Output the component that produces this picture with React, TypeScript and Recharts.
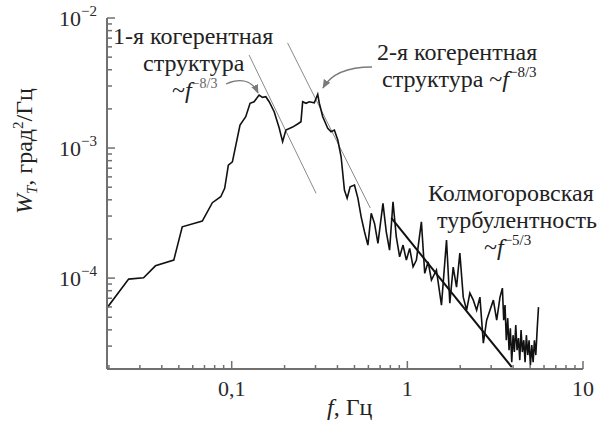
import React from 'react';
import { LineChart, Line, XAxis, YAxis, ReferenceLine } from 'recharts';

// Frequency, Hz
const freq = [
  0.0196, 0.0259, 0.0315, 0.0368, 0.0468, 0.0523, 0.068, 0.0776, 0.0866, 0.0912,
  0.0957, 0.1009, 0.1115, 0.1202, 0.1272, 0.1341, 0.1432, 0.1497, 0.1564, 0.1634,
  0.1745, 0.1864, 0.1949, 0.2035, 0.2222, 0.2373, 0.2479, 0.2535, 0.2648, 0.2765,
  0.2953, 0.3088, 0.3154, 0.3298, 0.3522, 0.3679, 0.3842, 0.4018, 0.4196, 0.4383,
  0.4541, 0.4724, 0.4999, 0.5228, 0.5461, 0.5702, 0.5962, 0.6227, 0.6503, 0.6801,
  0.7264, 0.7586, 0.792, 0.8285, 0.8652, 0.9037, 0.945, 0.987, 1.031, 1.078,
  1.126, 1.202, 1.256, 1.313, 1.371, 1.464, 1.564, 1.671, 1.745, 1.824,
  1.905, 1.99, 2.081, 2.174, 2.27, 2.374, 2.48, 2.589, 2.708, 2.828,
  2.953, 3.088, 3.226, 3.369, 3.476, 3.537, 3.597, 3.66, 3.728, 3.793,
  3.858, 3.929, 3.997, 4.066, 4.142, 4.213, 4.292, 4.365, 4.44, 4.517,
  4.601, 4.68, 4.76, 4.849, 4.933, 5.018, 5.11, 5.2, 5.289, 5.387,
  5.481, 5.58,
];

// Spectral density W_T, deg^2/Hz
const spectrum = [
  5.95e-5, 9.82e-5, 1.005e-4, 1.243e-4, 1.375e-4, 2.48e-4, 2.745e-4, 3.8e-4, 4.22e-4, 4.9e-4,
  7.4e-4, 7.84e-4, 1.503e-3, 1.741e-3, 2.21e-3, 2.27e-3, 2.557e-3, 2.455e-3, 2.48e-3, 2.27e-3,
  1.902e-3, 1.425e-3, 1.118e-3, 1.375e-3, 1.45e-3, 1.53e-3, 1.593e-3, 2.27e-3, 2.21e-3, 2.27e-3,
  2.23e-3, 2.59e-3, 2.21e-3, 1.741e-3, 1.418e-3, 1.335e-3, 1.375e-3, 1.152e-3, 8.57e-4, 4.75e-4,
  4.12e-4, 5.04e-4, 5.19e-4, 4.12e-4, 2.945e-4, 2.27e-4, 1.794e-4, 3.146e-4, 2.635e-4, 1.849e-4,
  3.755e-4, 2.27e-4, 1.642e-4, 3.86e-4, 2.078e-4, 1.458e-4, 1.794e-4, 1.375e-4, 1.692e-4, 1.222e-4,
  1.375e-4, 2.71e-4, 1.087e-4, 1.335e-4, 9.65e-5, 1.152e-4, 6.2e-5, 1.96e-4, 6.42e-5, 1.215e-4,
  8.53e-5, 1.557e-4, 7.14e-5, 5.67e-5, 7.67e-5, 6.77e-5, 5.67e-5, 7.14e-5, 3.16e-5, 4.75e-5,
  5.67e-5, 6.77e-5, 4.75e-5, 7.14e-5, 8.37e-5, 4.75e-5, 6.2e-5, 3.33e-5, 4.92e-5, 2.79e-5,
  4.12e-5, 2.26e-5, 3.64e-5, 2.7e-5, 4.35e-5, 2.79e-5, 3.46e-5, 2.34e-5, 3.98e-5, 2.7e-5,
  3.33e-5, 2.26e-5, 3.64e-5, 2.56e-5, 3.33e-5, 2.14e-5, 3.05e-5, 2.26e-5, 3.33e-5, 2.56e-5,
  3.98e-5, 5.98e-5,
];

// Axis ticks
const xDomain = [0.0195, 10];
const yDomain = [2e-5, 1e-2];
const xMajorTicks = [0.1, 1, 10];
const xTickLabels = ['0,1', '1', '10'];
const yMajorTicks = [1e-4, 1e-3, 1e-2];
const yTickExponents = ['−4', '−3', '−2'];
const minorMultipliers = [2, 3, 4, 5, 6, 7, 8, 9];
const xDecades = [0.01, 0.1, 1];
const yDecades = [1e-5, 1e-4, 1e-3];

// Power-law guide lines
const slopeA = [{ x: 0.1256, y: 5.19e-3 }, { x: 0.302, y: 4.49e-4 }];
const slopeB = [{ x: 0.208, y: 6.43e-3 }, { x: 0.615, y: 3.46e-4 }];
const slopeKolmogorov = [{ x: 0.81, y: 2.9e-4 }, { x: 3.93, y: 2.07e-5 }];

const data = freq.map((f, i) => ({ f, w: spectrum[i] }));

const buildTicks = (decades: number[], majors: number[], dom: number[]) => {
  const minors = decades.flatMap((d) => minorMultipliers.map((m) => Number((d * m).toPrecision(3))));
  return [...minors, ...majors].filter((v) => v >= dom[0] && v <= dom[1]).sort((a, b) => a - b);
};
const xTicks = buildTicks(xDecades, xMajorTicks, xDomain);
const yTicks = buildTicks(yDecades, yMajorTicks, yDomain);

const majorIndex = (v: number, majors: number[]) =>
  majors.findIndex((m) => Math.abs(Math.log10(v) - Math.log10(m)) < 1e-6);

const AXIS = '#707070';
const serif = { fontFamily: "'Liberation Serif'" };
const ANN = 24;

const XTick = (props: any) => {
  const { x, y, payload } = props;
  const idx = majorIndex(payload.value, xMajorTicks);
  const len = idx >= 0 ? 8 : 4;
  return (
    <g>
      <line x1={x} x2={x} y1={y} y2={y - len} stroke={AXIS} strokeWidth={1.5} />
      {idx >= 0 && (
        <text x={x} y={y + 27} textAnchor="middle" fontSize={22} style={serif} fill="#2a2a2a">
          {xTickLabels[idx]}
        </text>
      )}
    </g>
  );
};

const YTick = (props: any) => {
  const { x, y, payload } = props;
  const idx = majorIndex(payload.value, yMajorTicks);
  const len = idx >= 0 ? 8 : 5;
  return (
    <g>
      <line x1={x} x2={x + len} y1={y} y2={y} stroke={AXIS} strokeWidth={1.5} />
      {idx >= 0 && (
        <text x={x - 10} y={y + 8} textAnchor="end" fontSize={22} style={serif} fill="#2a2a2a">
          10
          <tspan fontSize={15} dy={-10}>
            {yTickExponents[idx]}
          </tspan>
        </text>
      )}
    </g>
  );
};

export default function App() {
  return (
    <div style={{ position: 'absolute', left: 0, top: 0, width: 598, height: 421, background: '#fff' }}>
      <LineChart width={598} height={421} data={data} margin={{ top: 18, right: 15, bottom: 0, left: 0 }}>
        <XAxis
          dataKey="f"
          type="number"
          scale="log"
          domain={xDomain}
          allowDataOverflow
          ticks={xTicks}
          interval={0}
          tickSize={0}
          tickMargin={0}
          tickLine={false}
          tick={<XTick />}
          height={52}
          axisLine={{ stroke: AXIS, strokeWidth: 2 }}
        />
        <YAxis
          type="number"
          scale="log"
          domain={yDomain}
          allowDataOverflow
          ticks={yTicks}
          interval={0}
          tickSize={0}
          tickMargin={0}
          tickLine={false}
          tick={<YTick />}
          width={107}
          axisLine={{ stroke: AXIS, strokeWidth: 2 }}
        />
        <ReferenceLine segment={slopeA} stroke="#8a8a8a" strokeWidth={1} />
        <ReferenceLine segment={slopeB} stroke="#8a8a8a" strokeWidth={1} />
        <Line dataKey="w" type="linear" stroke="#111" strokeWidth={1.6} dot={false} isAnimationActive={false} />
        <ReferenceLine segment={slopeKolmogorov} stroke="#111" strokeWidth={2} />
      </LineChart>
      <svg
        width={598}
        height={421}
        style={{ position: 'absolute', left: 0, top: 0, pointerEvents: 'none' }}
        fill="#222"
      >
        <defs>
          <marker id="ah" viewBox="0 0 10 10" refX="9" refY="5" markerWidth="7" markerHeight="7" orient="auto">
            <path d="M0,1 L10,5 L0,9 z" fill="#7a7a7a" />
          </marker>
        </defs>
        <text x={113} y={44} fontSize={ANN} style={serif}>1-я когерентная</text>
        <text x={143} y={71} fontSize={ANN} style={serif}>структура</text>
        <text x={172} y={98} fontSize={ANN} style={serif}>
          ~<tspan fontStyle="italic">f</tspan>
          <tspan fontSize={14} dy={-10} fill="#666">−8/3</tspan>
        </text>
        <path d="M226,84 C240,78 252,80 258,93" fill="none" stroke="#7a7a7a" strokeWidth={1.3} markerEnd="url(#ah)" />

        <text x={377} y={60} fontSize={ANN} style={serif}>2-я когерентная</text>
        <text x={382} y={87} fontSize={ANN} style={serif}>
          структура ~<tspan fontStyle="italic">f</tspan>
          <tspan fontSize={15} dy={-10}>−8/3</tspan>
        </text>
        <path d="M372,67 C350,67 332,72 323,88" fill="none" stroke="#7a7a7a" strokeWidth={1.3} markerEnd="url(#ah)" />

        <text x={428} y={201} fontSize={ANN} style={serif}>Колмогоровская</text>
        <text x={437} y={228} fontSize={ANN} style={serif}>турбулентность</text>
        <text x={484} y={255} fontSize={ANN} style={serif}>
          ~<tspan fontStyle="italic">f</tspan>
          <tspan fontSize={15} dy={-10}>−5/3</tspan>
        </text>

        <text x={327} y={415} fontSize={ANN} style={serif}>
          <tspan fontStyle="italic">f</tspan>, Гц
        </text>

        <text x={32} y={151} fontSize={ANN} textAnchor="middle" transform="rotate(-90 32 151)" style={serif}>
          <tspan fontStyle="italic">W</tspan>
          <tspan fontStyle="italic" fontSize={15} dy={5}>T</tspan>
          <tspan dy={-5}>, град</tspan>
          <tspan fontSize={15} dy={-9}>2</tspan>
          <tspan dy={9}>/Гц</tspan>
        </text>
      </svg>
    </div>
  );
}
